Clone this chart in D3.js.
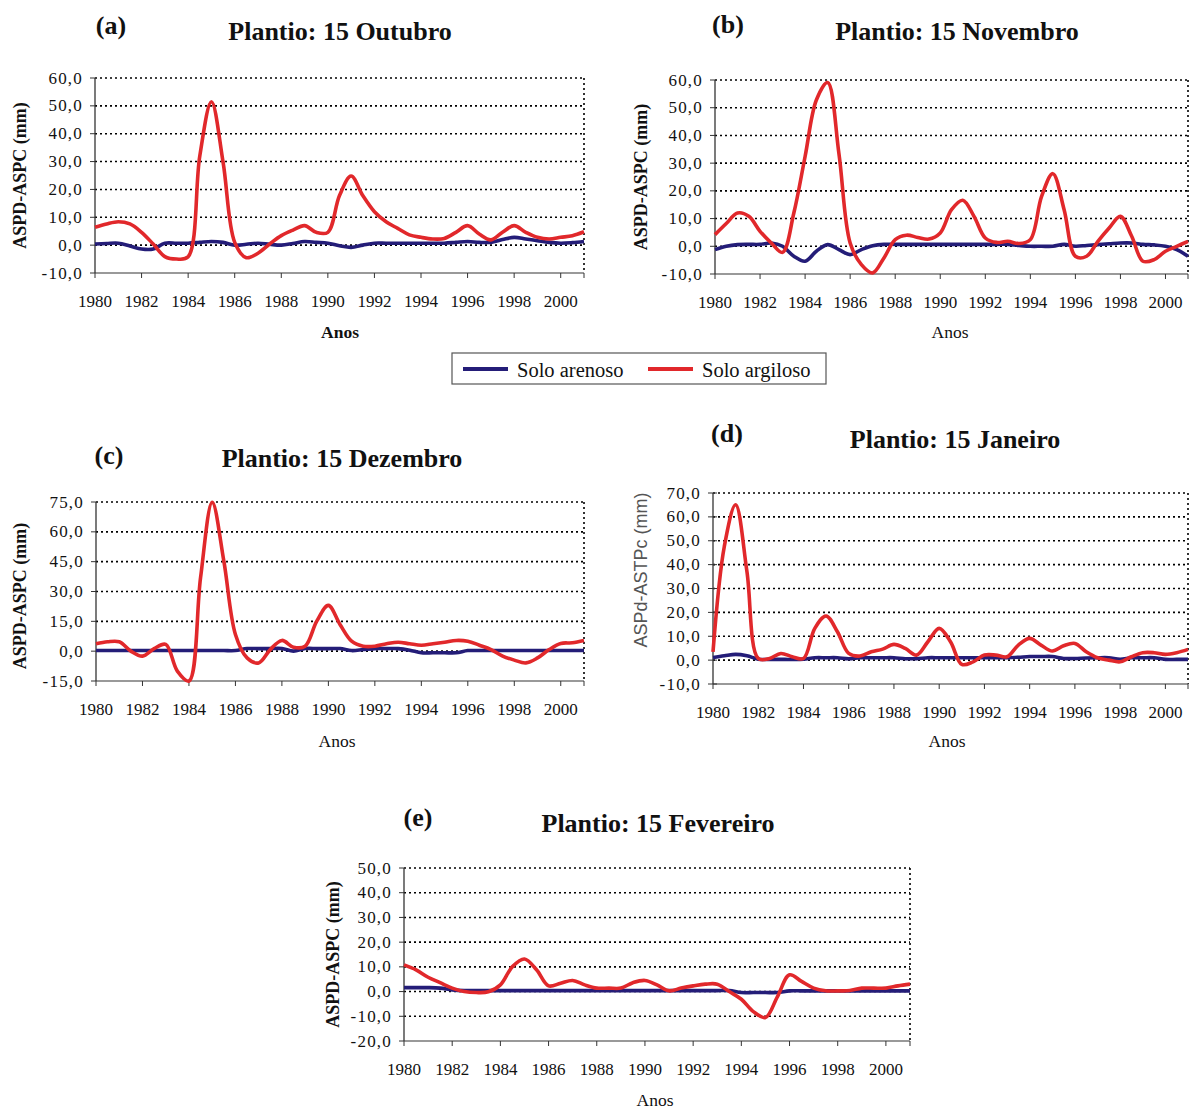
<!DOCTYPE html>
<html>
<head>
<meta charset="utf-8">
<title>ASPD-ASPC por data de plantio</title>
<script src="https://d3js.org/d3.v7.min.js"></script>
<style>
  body { margin: 0; background: #fff; }
  text { font-family: "Liberation Serif", "DejaVu Serif", serif; fill: #111; }
</style>
</head>
<body>
<svg width="1190" height="1109"></svg>
<script>
// anos a cada meio ano, 1980 .. 2001
const years = d3.range(1980, 2001.01, 0.5);

// (a) Plantio 15 Outubro
const redA = [6.4, 7.6, 8.4, 7.6, 4.6, 0.4, -4.1, -5.0, -4.2, 32, 51.5, 29.8, 1.0, -4.5, -2.9, 0.4, 3.4, 5.4, 7.0, 4.6,
  4.6, 17.8, 24.8, 17.8, 12.0, 8.4, 6.0, 3.7, 2.8, 2.2, 2.4, 4.6, 7.0, 4.0, 1.9, 4.6, 7.0, 4.6, 2.8, 2.2, 2.8, 3.4, 4.8];
const blueA = [0.4, 0.6, 0.7, -0.3, -1.4, -1.4, 0.7, 0.7, 0.7, 1.0, 1.3, 1.0, 0, 0.3, 0.7, 0.3, 0, 0.6, 1.3, 1.0,
  0.7, -0.2, -0.8, 0, 0.7, 0.7, 0.7, 0.7, 0.7, 0.7, 0.7, 1.0, 1.3, 1.0, 1.0, 2.0, 2.8, 2.2, 1.6, 1.0, 0.7, 0.9, 1.3];

// (b) Plantio 15 Novembro
const redB = [4.2, 8.2, 12.0, 10.8, 5.4, 1.2, -2.2, 12.0, 32.4, 52.8, 59.1, 33.6, 1.2, -6.6, -9.6, -4.2, 2.4, 4.0, 3.2, 2.6,
  4.8, 13.2, 16.6, 10.8, 3.0, 1.4, 1.8, 1.0, 2.4, 18.0, 26.2, 13.2, -3.6, -3.6, 1.8, 6.6, 10.8, 3.6, -5.4, -4.8, -1.8, 0, 1.8];
const blueB = [-1.2, 0, 0.6, 0.7, 0.7, 1.2, 0, -3.6, -5.4, -1.8, 0.6, -1.2, -3.0, -1.2, 0.2, 0.7, 0.7, 0.7, 0.7, 0.7,
  0.7, 0.7, 0.7, 0.7, 0.7, 0.7, 0.7, 0.3, 0, 0, 0, 0.7, 0, 0.3, 0.6, 0.9, 1.2, 1.2, 0.7, 0.5, 0, -1.2, -3.6];

// (c) Plantio 15 Dezembro
const redC = [3.7, 4.7, 4.7, 0, -2.5, 1.3, 3.4, -10, -15, 37, 74.8, 45.4, 8.4, -3.4, -5.9, 0.8, 5.4, 2.0, 2.5, 15.1,
  23.0, 13.4, 5.0, 2.5, 2.5, 3.7, 4.5, 3.7, 3.0, 3.7, 4.5, 5.4, 5.0, 3.0, 0.8, -2.5, -4.5, -5.9, -3.4, 0.8, 3.9, 4.2, 5.4];
const blueC = [0.3, 0.3, 0.3, 0.3, 0.3, 0.3, 0.3, 0.3, 0.3, 0.3, 0.3, 0.3, 0.3, 1.3, 1.3, 1.3, 1.3, 0, 1.3, 1.3,
  1.3, 1.3, 0.3, 0.8, 1.3, 1.3, 1.3, 0.5, -0.8, -0.8, -0.8, -0.8, 0.3, 0.3, 0.3, 0.3, 0.3, 0.3, 0.3, 0.3, 0.3, 0.3, 0.3];

// (d) Plantio 15 Janeiro
const redD = [3.5, 47.6, 65.1, 37.1, 0.7, 0.7, 2.8, 1.4, 0.7, 13.3, 18.5, 11.9, 2.8, 1.7, 3.5, 4.6, 6.6, 4.9, 2.1, 7.7,
  13.3, 7.7, -1.8, -0.7, 2.1, 2.1, 1.4, 6.3, 9.1, 6.3, 3.8, 6.0, 7.0, 3.5, 1.0, 0, -0.7, 1.4, 3.1, 3.1, 2.4, 3.1, 4.5];
const blueD = [1.1, 1.8, 2.4, 1.8, 0.4, 0.3, 0.3, 0.3, 0.4, 1.0, 1.0, 1.0, 0.6, 1.0, 1.0, 1.0, 1.0, 0.6, 0.6, 1.0,
  1.0, 1.0, 1.0, 1.0, 1.0, 1.0, 1.0, 1.2, 1.5, 1.5, 1.5, 0.7, 0.7, 0.9, 1.0, 1.0, 0.3, 1.0, 1.0, 1.0, 0.3, 0.3, 0.3];

// (e) Plantio 15 Fevereiro
const redE = [10.8, 8.8, 5.8, 3.6, 1.4, 0, -0.4, -0.1, 2.7, 10.1, 13.2, 8.8, 2.3, 3.4, 4.5, 2.7, 1.4, 1.4, 1.4, 3.6,
  4.5, 2.7, 0.3, 1.4, 2.3, 3.0, 3.0, 0, -3.1, -8.1, -10.5, -2.0, 6.8, 4.1, 1.4, 0.3, 0.3, 0.4, 1.4, 1.4, 1.4, 2.3, 3.0];
const blueE = [1.6, 1.6, 1.6, 1.4, 0.7, 0.4, 0.4, 0.4, 0.4, 0.4, 0.4, 0.4, 0.4, 0.4, 0.4, 0.4, 0.4, 0.4, 0.4, 0.4,
  0.4, 0.4, 0.4, 0.4, 0.4, 0.4, 0.4, 0.4, -0.4, -0.4, -0.4, -0.4, 0.3, 0.3, 0.3, 0.3, 0.3, 0.3, 0.3, 0.3, 0.3, 0.3, 0.3];

const xTicks = [1980, 1982, 1984, 1986, 1988, 1990, 1992, 1994, 1996, 1998, 2000];
const seriesNames = ["Solo arenoso", "Solo argiloso"];
const colors = ["#241d78", "#e1282b"];

const svg = d3.select("svg");
const fmt = d => d.toFixed(1).replace(".", ",");

function panel(p) {
    const g = svg.append("g");
    const x = d3.scaleLinear().domain([1980, 2001]).range([p.left, p.right]);
    const y = d3.scaleLinear().domain(p.yDomain).range([p.bottom, p.top]);
    const yTicks = d3.range(p.yDomain[0], p.yDomain[1] + 0.01, p.step);

    // grade pontilhada
    g.selectAll(".grid").data(yTicks.slice(1)).enter().append("line")
        .attr("x1", p.left).attr("x2", p.right)
        .attr("y1", d => y(d)).attr("y2", d => y(d))
        .attr("stroke", "#000").attr("stroke-width", 1.6).attr("stroke-dasharray", "2,3");
    g.append("line")
        .attr("x1", p.right).attr("x2", p.right).attr("y1", p.top).attr("y2", p.bottom)
        .attr("stroke", "#000").attr("stroke-width", 1.6).attr("stroke-dasharray", "2,3");

    // eixo x
    g.append("line").attr("x1", p.left).attr("x2", p.right).attr("y1", p.bottom).attr("y2", p.bottom)
        .attr("stroke", "#777").attr("stroke-width", 1.5);
    g.selectAll(".xt").data(xTicks.concat([2001])).enter().append("line")
        .attr("x1", d => x(d)).attr("x2", d => x(d)).attr("y1", p.bottom).attr("y2", p.bottom + 5)
        .attr("stroke", "#333");
    g.selectAll(".xl").data(xTicks).enter().append("text")
        .attr("x", d => x(d)).attr("y", p.bottom + 34)
        .attr("text-anchor", "middle").attr("font-size", 17)
        .text(d => d);

    // eixo y
    g.append("line").attr("x1", p.left).attr("x2", p.left).attr("y1", p.top).attr("y2", p.bottom)
        .attr("stroke", "#333").attr("stroke-width", 1.3);
    g.selectAll(".yt").data(yTicks).enter().append("line")
        .attr("x1", p.left - 5).attr("x2", p.cross ? p.left + 4 : p.left)
        .attr("y1", d => y(d)).attr("y2", d => y(d))
        .attr("stroke", "#333");
    g.selectAll(".yl").data(yTicks).enter().append("text")
        .attr("x", p.left - 12).attr("y", d => y(d) + 5.5)
        .attr("text-anchor", "end").attr("font-size", 17)
        .attr("letter-spacing", 1.2)
        .text(fmt);

    // linhas
    const line = d3.line().x((d, i) => x(years[i])).y(d => y(d)).curve(d3.curveCatmullRom);
    [p.blue, p.red].forEach((s, k) => {
        g.append("path").datum(s).attr("d", line)
            .attr("fill", "none").attr("stroke", colors[k])
            .attr("stroke-width", 3.6).attr("stroke-linejoin", "round");
    });

    // textos
    g.append("text").attr("x", p.titleX).attr("y", p.titleY).attr("text-anchor", "middle")
        .attr("font-size", 26).attr("font-weight", "bold").text(p.title);
    g.append("text").attr("x", p.letterX).attr("y", p.letterY).attr("text-anchor", "middle")
        .attr("font-size", 26).attr("font-weight", "bold").text(p.letter);
    g.append("text").attr("x", p.anosX).attr("y", p.bottom + p.anosDy)
        .attr("text-anchor", "middle").attr("font-size", 17.5)
        .attr("font-weight", p.anosBold ? "bold" : "normal").text("Anos");
    const yl = g.append("text")
        .attr("transform", `translate(${p.yLabelX},${p.yLabelY || (p.top + p.bottom) / 2}) rotate(-90)`)
        .attr("text-anchor", "middle").text(p.yLabel);
    if (p.sansLabel) {
        yl.style("font-family", "'Liberation Sans', Arial, sans-serif").style("fill", "#555")
            .attr("font-size", 18);
    } else {
        yl.attr("font-size", 18).attr("font-weight", "bold");
    }
}

panel({left: 95, right: 584, top: 78, bottom: 273, yDomain: [-10, 60], step: 10,
    red: redA, blue: blueA, title: "Plantio: 15 Outubro", titleX: 340, titleY: 40,
    letter: "(a)", letterX: 111, letterY: 34,
    yLabel: "ASPD-ASPC (mm)", yLabelX: 26, anosBold: true, anosX: 340, anosDy: 65});
panel({left: 715, right: 1188, top: 80, bottom: 274, yDomain: [-10, 60], step: 10,
    red: redB, blue: blueB, title: "Plantio: 15 Novembro", titleX: 957, titleY: 40,
    letter: "(b)", letterX: 728, letterY: 33,
    yLabel: "ASPD-ASPC (mm)", yLabelX: 647, anosX: 950, anosDy: 64});
panel({left: 96, right: 584, top: 502, bottom: 681, yDomain: [-15, 75], step: 15,
    red: redC, blue: blueC, title: "Plantio: 15 Dezembro", titleX: 342, titleY: 467,
    letter: "(c)", letterX: 109, letterY: 464,
    yLabel: "ASPD-ASPC (mm)", yLabelX: 26, yLabelY: 596, anosX: 337, anosDy: 66});
panel({left: 713, right: 1188, top: 493, bottom: 684, yDomain: [-10, 70], step: 10, cross: true,
    red: redD, blue: blueD, title: "Plantio: 15 Janeiro", titleX: 955, titleY: 448,
    letter: "(d)", letterX: 727, letterY: 442,
    yLabel: "ASPd-ASTPc (mm)", yLabelX: 647, yLabelY: 570, sansLabel: true, anosX: 947, anosDy: 63});
panel({left: 404, right: 910, top: 868, bottom: 1041, yDomain: [-20, 50], step: 10,
    red: redE, blue: blueE, title: "Plantio: 15 Fevereiro", titleX: 658, titleY: 832,
    letter: "(e)", letterX: 418, letterY: 826,
    yLabel: "ASPD-ASPC (mm)", yLabelX: 339, anosX: 655, anosDy: 65});

// legenda
const leg = svg.append("g");
leg.append("rect").attr("x", 452).attr("y", 353).attr("width", 374).attr("height", 31)
    .attr("fill", "#fff").attr("stroke", "#555").attr("stroke-width", 1.2);
const legItems = [{x: 463, tx: 517}, {x: 648, tx: 702}];
seriesNames.forEach((name, i) => {
    leg.append("line").attr("x1", legItems[i].x).attr("x2", legItems[i].x + 45)
        .attr("y1", 369).attr("y2", 369).attr("stroke", colors[i]).attr("stroke-width", 4);
    leg.append("text").attr("x", legItems[i].tx).attr("y", 377).attr("font-size", 20.5).text(name);
});
</script>
</body>
</html>
